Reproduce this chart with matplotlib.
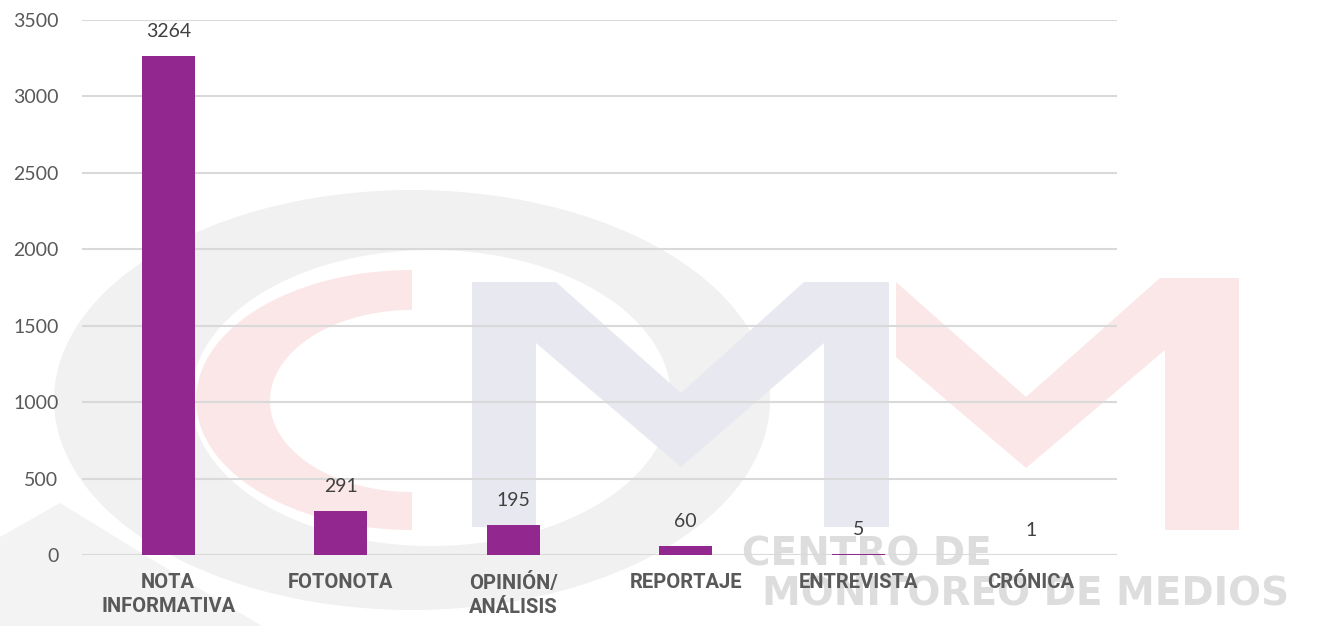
import numpy as np
import matplotlib
matplotlib.use("Agg")
import matplotlib.pyplot as plt
from matplotlib.patches import Polygon

# ---- data ----
categories = ["NOTA\nINFORMATIVA", "FOTONOTA", "OPINIÓN/\nANÁLISIS", "REPORTAJE", "ENTREVISTA", "CRÓNICA"]
values = [3264, 291, 195, 60, 5, 1]
yticks = [0, 500, 1000, 1500, 2000, 2500, 3000, 3500]

W, H = 1337, 626
fig = plt.figure(figsize=(W / 100, H / 100), dpi=100)
fig.patch.set_facecolor("white")

# ---- faint background logo (decoration, in pixel coordinates) ----
bg = fig.add_axes([0, 0, 1, 1], zorder=0)
bg.set_xlim(0, W)
bg.set_ylim(H, 0)
bg.axis("off")

def ell(cx, cy, a, b, t0, t1, n=240):
    t = np.radians(np.linspace(t0, t1, n))
    return np.column_stack([cx + a * np.cos(t), cy - b * np.sin(t)])

gray = "#f1f1f1"
pink = "#fbe7e8"
blue = "#e8e8f1"
# gray ring (full annulus)
outer = ell(412, 400, 358, 210, 0, 360)
inner = ell(431, 398, 240, 148, 360, 0)
bg.add_patch(Polygon(np.vstack([outer, inner]), closed=True, fc=gray, ec="none"))
# lower-left swoosh
bg.add_patch(Polygon([(0, 537), (60, 503), (215, 598), (262, 626), (0, 626)],
                     closed=True, fc="#f3f3f3", ec="none"))
# pink C (half annulus)
o = ell(412, 400, 216, 130, 90, 270)
i = ell(412, 401, 142, 91, 270, 90)
bg.add_patch(Polygon(np.vstack([o, i]), closed=True, fc=pink, ec="none"))
# blue M
bg.add_patch(Polygon([(472, 527), (472, 282), (556, 282), (681, 393), (804, 282), (889, 282),
                      (889, 527), (824, 527), (824, 343), (681, 467), (536, 343), (536, 527)],
                     closed=True, fc=blue, ec="none"))
# pink M
bg.add_patch(Polygon([(896, 282), (896, 357), (1026, 468), (1165, 350), (1165, 530), (1239, 530),
                      (1239, 278), (1160, 278), (1026, 397)], closed=True, fc=pink, ec="none"))
bg.text(867, 555, "CENTRO DE", ha="center", va="center", fontsize=28, fontweight="bold",
        color="#dddddd", family="DejaVu Sans")
bg.text(1026, 594, "MONITOREO DE MEDIOS", ha="center", va="center", fontsize=28, fontweight="bold",
        color="#dddddd", family="DejaVu Sans")

# ---- chart ----
ax = fig.add_axes([82 / W, 1 - 555 / H, (1117 - 82) / W, (555 - 20) / H], zorder=1)
ax.patch.set_alpha(0)
x = np.arange(len(categories))
ax.bar(x, values, width=0.31, color="#92278f", zorder=3)
ax.set_xlim(-0.5, len(categories) - 0.5)
ax.set_ylim(0, 3500)
ax.set_yticks(yticks)
ax.grid(axis="y", color="#d9d9d9", linewidth=1.5, zorder=0)
for s in ax.spines.values():
    s.set_visible(False)
ax.tick_params(axis="both", length=0)
ax.tick_params(axis="y", pad=17, labelsize=14, labelcolor="#595959")
ax.set_yticklabels([str(v) for v in yticks], family="Lato")
ax.set_xticks(x)
ax.set_xticklabels(categories, family="Roboto", fontweight="bold",
                   fontsize=14.5, color="#595959", linespacing=1.3)
ax.tick_params(axis="x", pad=13)

for xi, v in zip(x, values):
    ax.annotate(str(v), (xi, v), xytext=(0, 17.5), textcoords="offset points",
                ha="center", va="center", fontsize=14, color="#404040", family="Lato")

fig.savefig("out.png", dpi=100)
